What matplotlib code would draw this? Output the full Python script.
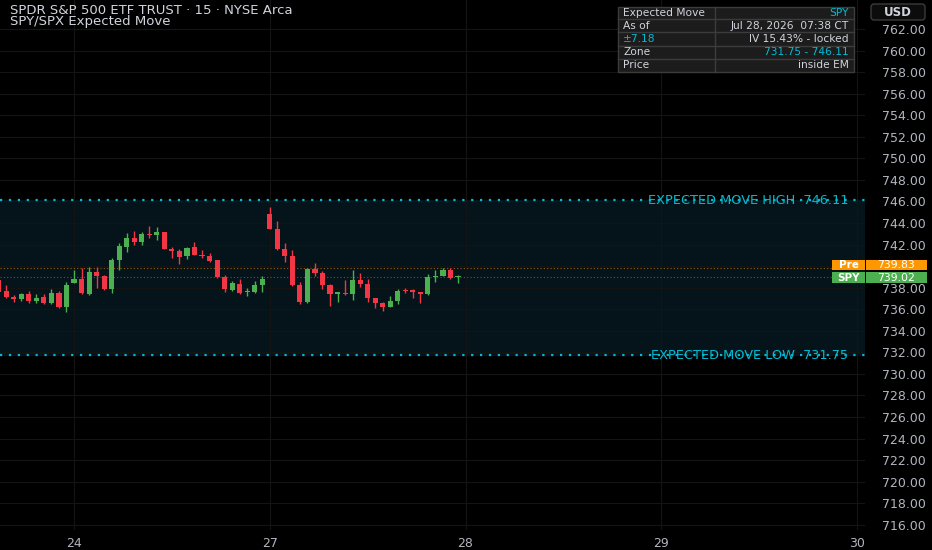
import numpy as np
import matplotlib.pyplot as plt
from matplotlib.patches import Rectangle, FancyBboxPatch

# 15-minute bars, index 0 = first bar of Jul 24 session
bar_index = np.arange(-10, 52)
opens = [738.72, 737.70, 737.10, 736.93, 737.40, 736.80, 737.10, 736.55, 737.48, 736.18,
         738.47, 738.78, 737.45, 739.50, 739.10, 737.85, 740.57, 741.80, 742.60, 742.20,
         743.00, 742.90, 743.15, 741.62, 741.43, 740.90, 741.75, 741.07, 740.97, 740.57,
         739.00, 737.80, 738.35, 737.60, 737.64, 738.25,
         744.84, 743.45, 741.56, 740.94, 738.25, 736.70, 739.74, 739.34, 738.25, 737.45,
         737.50, 737.40, 738.72, 738.35, 737.00, 736.60, 736.18, 736.80, 737.80, 737.79,
         737.60, 737.40, 739.00, 739.10, 739.64, 738.98]
highs = [738.85, 738.25, 737.30, 737.54, 737.67, 737.40, 737.40, 737.88, 737.67, 738.56,
         739.64, 739.80, 739.90, 739.95, 739.15, 740.73, 742.18, 743.10, 743.25, 743.20,
         743.73, 743.60, 743.20, 741.80, 741.60, 741.80, 742.20, 741.50, 741.25, 740.60,
         739.18, 738.66, 738.84, 737.98, 738.62, 739.10,
         745.52, 744.20, 742.12, 741.50, 738.56, 739.80, 740.30, 739.52, 738.30, 737.64,
         738.72, 739.64, 739.34, 738.80, 737.05, 736.70, 737.23, 737.84, 737.98, 737.85,
         737.60, 739.30, 739.60, 739.80, 739.83, 739.20]
lows = [737.55, 737.05, 736.70, 736.80, 736.61, 736.55, 736.45, 736.50, 736.10, 735.72,
        738.45, 737.45, 737.30, 737.95, 737.80, 737.50, 739.60, 741.35, 742.00, 742.00,
        742.60, 742.40, 741.55, 740.73, 740.20, 740.70, 741.00, 740.80, 740.40, 738.90,
        737.60, 737.70, 737.42, 737.25, 737.54, 737.64,
        743.40, 741.50, 740.40, 738.16, 736.50, 736.60, 739.10, 737.85, 736.30, 736.65,
        737.35, 736.86, 738.10, 736.65, 736.10, 735.87, 736.18, 736.50, 737.50, 737.00,
        736.60, 737.30, 738.50, 739.05, 738.78, 738.47]
closes = [737.63, 737.11, 736.92, 737.39, 736.77, 737.05, 736.55, 737.48, 736.18, 738.25,
          738.78, 737.48, 739.48, 739.10, 737.85, 740.57, 741.87, 742.60, 742.20, 742.98,
          742.90, 743.20, 741.60, 741.38, 740.88, 741.70, 741.05, 740.92, 740.50, 738.97,
          737.85, 738.42, 737.54, 737.70, 738.25, 738.80,
          743.42, 741.56, 740.94, 738.25, 736.70, 739.70, 739.34, 738.25, 737.39, 737.55,
          737.37, 738.72, 738.32, 737.00, 736.60, 736.18, 736.77, 737.72, 737.70, 737.64,
          737.40, 739.03, 739.10, 739.64, 738.87, 739.02]

bars_per_day = 26
day_labels = ['24', '27', '28', '29', '30']
price_ticks = np.arange(716, 764, 2)

em_low, em_high = 731.75, 746.11
pre_price, last_price = 739.83, 739.02

table_rows = [('Expected Move', 'SPY'),
              ('As of', 'Jul 28, 2026  07:38 CT'),
              ('\u00b17.18', 'IV 15.43% - locked'),
              ('Zone', '731.75 - 746.11'),
              ('Price', 'inside EM')]
table_cyan = [(False, True), (False, False), (True, False), (False, True), (False, False)]

BG = '#000000'
GREEN = '#4caf50'
RED = '#f23645'
CYAN = '#00bcd4'
ORANGE = '#ff9800'
GRAY = '#b2b5be'
TXT = '#d1d4dc'

fig = plt.figure(figsize=(9.32, 5.5), dpi=100, facecolor=BG)
ax = fig.add_axes([0, 20 / 550, 865 / 932, 530 / 550])
ax.set_facecolor(BG)

ax.set_xlim(-9.83, 105.05)
ax.set_ylim(715.52, 764.69)

# grid; the 740 label sits under the price tags, so leave it blank
ax.set_yticks(price_ticks)
ax.set_yticklabels(['' if v == 740 else '%.2f' % v for v in price_ticks])
ax.set_xticks(np.arange(len(day_labels)) * bars_per_day)
ax.set_xticklabels(day_labels)
ax.grid(True, color='#141414', linewidth=0.8)
ax.set_axisbelow(True)
ax.yaxis.tick_right()
ax.tick_params(axis='y', length=0, pad=12, labelsize=9, colors=GRAY)
ax.tick_params(axis='x', length=0, pad=5, labelsize=9, colors=GRAY)
for s in ax.spines.values():
    s.set_visible(False)

# expected move band
ax.axhspan(em_low, em_high, color='#05141a', zorder=0.5)
for lvl, name in [(em_high, 'HIGH'), (em_low, 'LOW')]:
    ax.axhline(lvl, color=CYAN, linewidth=1.6, linestyle=(0, (1, 3)), zorder=4)
    ax.text(848 / 865, lvl, 'EXPECTED MOVE %s  %.2f' % (name, lvl),
            transform=ax.get_yaxis_transform(), ha='right', va='center',
            fontsize=9.3, color=CYAN, zorder=3)

# price lines
ax.axhline(pre_price, color=ORANGE, alpha=0.55, linewidth=0.8, linestyle=(0, (1, 2)), zorder=1)
ax.axhline(last_price, color='#5f7f62', alpha=0.7, linewidth=0.8, linestyle=(0, (1, 2)), zorder=1)

# candles
o = np.array(opens)
c = np.array(closes)
colors = np.where(c >= o, GREEN, RED)
ax.vlines(bar_index, lows, highs, colors=colors, linewidth=1, zorder=5)
body_low = np.minimum(o, c)
body_h = np.maximum(np.abs(c - o), 0.12)
ax.bar(bar_index, body_h, bottom=body_low, width=0.68, color=colors, zorder=6, linewidth=0)

# price tags on the axis
ytr = ax.get_yaxis_transform()
for center, name, val, col in [(740.10, 'Pre', pre_price, ORANGE),
                               (738.91, 'SPY', last_price, GREEN)]:
    ax.add_patch(Rectangle((832 / 865, center - 0.5), 33 / 865, 1.0, transform=ytr,
                           facecolor=col, edgecolor='none', clip_on=False, zorder=8))
    ax.add_patch(Rectangle((866 / 865, center - 0.5), 61 / 865, 1.0, transform=ytr,
                           facecolor=col, edgecolor='none', clip_on=False, zorder=8))
    ax.text(848.5 / 865, center, name, transform=ytr, ha='center', va='center',
            fontsize=7.5, color='white', fontweight='bold', zorder=9, clip_on=False)
    ax.text(896 / 865, center, '%.2f' % val, transform=ytr, ha='center', va='center',
            fontsize=7.8, color='white', zorder=9, clip_on=False)

# overlay in pixel coordinates
ov = fig.add_axes([0, 0, 1, 1], facecolor='none')
ov.set_xlim(0, 932)
ov.set_ylim(550, 0)
ov.axis('off')

ov.text(10, 10, 'SPDR S&P 500 ETF TRUST \u00b7 15 \u00b7 NYSE Arca', fontsize=9.5,
        color=TXT, ha='left', va='center')
ov.text(10, 22, 'SPY/SPX Expected Move', fontsize=9.5, color=TXT, ha='left', va='center')

# USD button
ov.add_patch(FancyBboxPatch((871, 4), 54, 16, boxstyle='round,pad=0,rounding_size=3',
                            facecolor='#0c0c0c', edgecolor='#3a3a3a', linewidth=1))
ov.text(898, 12, 'USD', fontsize=8.5, color=TXT, ha='center', va='center', fontweight='bold')

# info table
tx0, tx1, tsplit = 618, 854, 715
ty = [6.7, 19.3, 32.3, 45.7, 59, 71.7]
ov.add_patch(Rectangle((tx0, ty[0]), tx1 - tx0, ty[-1] - ty[0], facecolor='#1c1c1c',
                       edgecolor='#3c3c3c', linewidth=1))
for y in ty[1:-1]:
    ov.plot([tx0, tx1], [y, y], color='#3c3c3c', linewidth=1)
ov.plot([tsplit, tsplit], [ty[0], ty[-1]], color='#3c3c3c', linewidth=1)
for i, (left, right) in enumerate(table_rows):
    yc = (ty[i] + ty[i + 1]) / 2
    lc, rc = table_cyan[i]
    ov.text(tx0 + 5, yc, left, fontsize=7.7, color=CYAN if lc else TXT, ha='left', va='center')
    ov.text(tx1 - 5, yc, right, fontsize=7.7, color=CYAN if rc else TXT, ha='right', va='center')

fig.savefig('out.png', dpi=100, facecolor=BG)
